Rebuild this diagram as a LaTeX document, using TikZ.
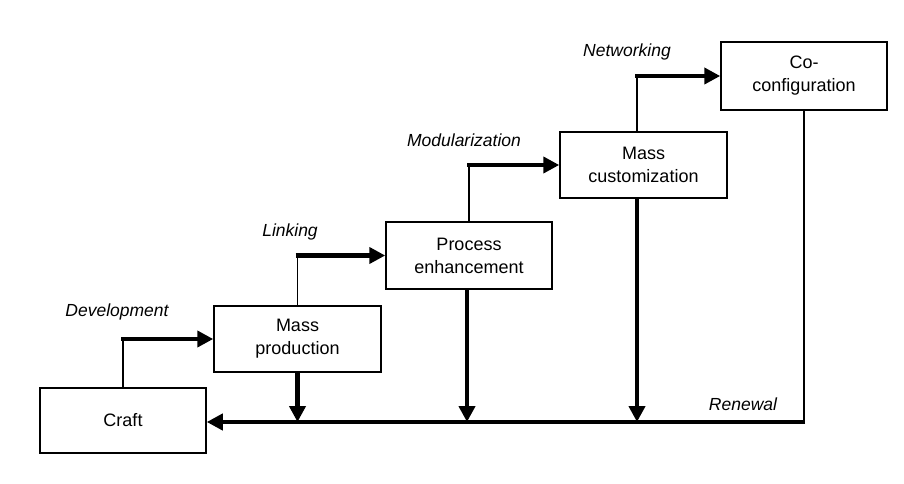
\documentclass[tikz,border=0pt]{standalone}
\usepackage{fontspec}
\setmainfont{Liberation Sans}
\usetikzlibrary{arrows.meta}
\tikzset{
  box/.style={draw, line width=1.5pt, align=center, inner sep=0pt,
    font=\fontsize{18}{23}\selectfont},
  lbl/.style={font=\fontsize{17.5}{21}\selectfont\itshape, inner sep=0pt},
  thinline/.style={line width=1.8pt},
  thickline/.style={line width=4.5pt},
  arr/.style={-{Triangle[length=16pt,width=16pt]}},
}
\begin{document}
\begin{tikzpicture}[x=1pt,y=-1pt]
\useasboundingbox (0,0) rectangle (904,484);
\node[box, minimum width=166pt, minimum height=65pt] (craft) at (123,420.5) {Craft};
\node[box, minimum width=167pt, minimum height=66pt] (mp) at (297.5,339) {Mass\\production};
\node[box, minimum width=166pt, minimum height=67pt] (pe) at (469,255.5) {Process\\enhancement};
\node[box, minimum width=167pt, minimum height=66pt] (mc) at (643.5,165) {Mass\\customization};
\node[box, minimum width=166pt, minimum height=68pt] (cc) at (804,76) {Co-\\configuration};

\coordinate (bot) at (805,422);
\coordinate (mcx) at (637,0);

% Development
\draw[thinline] (craft.north) -- (craft.north |- mp.west);
\draw[thickline, arr] ([xshift=-2pt]craft.north |- mp.west) -- (mp.west);
% Linking
\draw[thinline] (mp.north) -- (mp.north |- pe.west);
\draw[thickline, arr] ([xshift=-2pt]mp.north |- pe.west) -- (pe.west);
% Modularization
\draw[thinline] (pe.north) -- (pe.north |- mc.west);
\draw[thickline, arr] ([xshift=-2pt]pe.north |- mc.west) -- (mc.west);
% Networking
\draw[thinline] (mcx |- mc.north) -- (mcx |- cc.west);
\draw[thickline, arr] ([xshift=-2pt]mcx |- cc.west) -- (cc.west);

% Renewal
\draw[thinline] (cc.south) -- (cc.south |- bot);
\draw[thickline, arr] ([xshift=1pt]cc.south |- bot) -- (craft.east |- bot);

% down arrows
\draw[thickline, arr] (mp.south) -- (mp.south |- bot);
\draw[thickline, arr] ([xshift=-2pt]pe.south) -- ([xshift=-2pt]pe.south |- bot);
\draw[thickline, arr] (mcx |- mc.south) -- (mcx |- bot);

% labels
\node[lbl] (ldev) at (117,312) {Development};
\node[lbl] (llink) at (290,232) {Linking};
\node[lbl] (lmod) at (464,140) {Modularization};
\node[lbl] (lnet) at (627,52) {Networking};
\node[lbl] (lren) at (743,404) {Renewal};
\end{tikzpicture}
\end{document}
